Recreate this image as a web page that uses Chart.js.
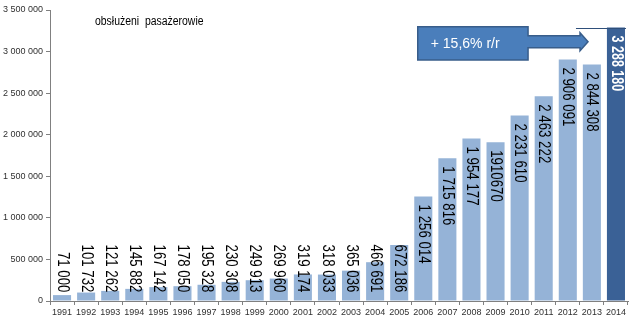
<!DOCTYPE html>
<html>
<head>
<meta charset="utf-8">
<script src="https://cdn.jsdelivr.net/npm/chart.js@4/dist/chart.umd.min.js"></script>
<style>
  html, body { margin: 0; padding: 0; background: #ffffff; }
  #wrap { width: 632px; height: 322px; }
</style>
</head>
<body>
<div id="wrap"><canvas id="c" width="632" height="322"></canvas></div>
<script>
// Passengers handled per year
const years = ['1991','1992','1993','1994','1995','1996','1997','1998','1999','2000',
  '2001','2002','2003','2004','2005','2006','2007','2008','2009','2010','2011','2012','2013','2014'];
const passengers = [71000, 101732, 121262, 145882, 167142, 178050, 195328, 230308, 249913, 269960,
  319174, 318033, 365036, 466691, 672186, 1256014, 1715816, 1954177, 1910670, 2231610,
  2463222, 2906091, 2844308, 3288180];
const valueLabels = ['71 000','101 732','121 262','145 882','167 142','178 050','195 328','230 308',
  '249 913','269 960','319 174','318 033','365 036','466 691','672 186','1 256 014','1 715 816',
  '1 954 177','1910670','2 231 610','2 463 222','2 906 091','2 844 308','3 288 180'];
const yTicks = [0, 500000, 1000000, 1500000, 2000000, 2500000, 3000000, 3500000];
const titleText = 'obsłużeni  pasażerowie';
const growthText = '+ 15,6% r/r';

const LIGHT = '#95b3d7';
const DARK = '#3a6196';
const FONT = '"Liberation Sans", Arial, sans-serif';

const fmt = n => String(n).replace(/\B(?=(\d{3})+(?!\d))/g, ' ');

// Vertical value labels: small bars read up from the base, tall bars hang from the top;
// the latest year is highlighted in bold white on its dark bar
const barLabels = {
  id: 'barLabels',
  afterDatasetsDraw(chart) {
    const ctx = chart.ctx;
    const meta = chart.getDatasetMeta(0);
    const last = passengers.length - 1;
    ctx.save();
    ctx.textBaseline = 'middle';
    meta.data.forEach((bar, i) => {
      const fromTop = passengers[i] >= 1000000;
      ctx.save();
      ctx.fillStyle = i === last ? '#ffffff' : '#000000';
      ctx.font = (i === last ? 'bold ' : '') + '16px ' + FONT;
      ctx.translate(bar.x, fromTop ? bar.y + 8 : bar.base - 8);
      ctx.rotate(Math.PI / 2);
      ctx.scale(i === last ? 0.78 : 0.83, 1);
      ctx.textAlign = fromTop ? 'left' : 'right';
      ctx.fillText(valueLabels[i], 0, 0);
      ctx.restore();
    });
    ctx.restore();
  }
};

// Title text and the year-on-year growth arrow
const annotations = {
  id: 'annotations',
  afterDraw(chart) {
    const ctx = chart.ctx;
    const xs = chart.scales.x, ys = chart.scales.y;
    const area = chart.chartArea;
    ctx.save();

    // series title
    ctx.save();
    ctx.translate(area.left + 45, 22);
    ctx.scale(0.87, 1);
    ctx.fillStyle = '#000';
    ctx.font = '12px ' + FONT;
    ctx.textBaseline = 'middle';
    ctx.textAlign = 'left';
    ctx.fillText(titleText, 0, 0);
    ctx.restore();

    // arrow geometry tied to the scales
    const step = xs.getPixelForValue(1) - xs.getPixelForValue(0);
    const boxL = xs.getPixelForValue(15) - step * 0.23;
    const boxR = xs.getPixelForValue(19) + step * 0.35;
    const boxT = ys.getPixelForValue(3300000);
    const boxB = ys.getPixelForValue(2900000);
    const midY = (boxT + boxB) / 2 - 1.5;
    const tipX = xs.getPixelForValue(22) - step * 0.16;
    const headBase = tipX - 8;
    const shaftH = 6;
    const headH = 9;

    ctx.beginPath();
    ctx.moveTo(boxL, boxT);
    ctx.lineTo(boxR, boxT);
    ctx.lineTo(boxR, midY - shaftH);
    ctx.lineTo(headBase, midY - shaftH);
    ctx.lineTo(headBase, midY - headH);
    ctx.lineTo(tipX, midY);
    ctx.lineTo(headBase, midY + headH);
    ctx.lineTo(headBase, midY + shaftH);
    ctx.lineTo(boxR, midY + shaftH);
    ctx.lineTo(boxR, boxB);
    ctx.lineTo(boxL, boxB);
    ctx.closePath();
    ctx.fillStyle = '#4a7ebb';
    ctx.fill();
    ctx.lineWidth = 1.5;
    ctx.strokeStyle = '#385d8a';
    ctx.stroke();

    ctx.fillStyle = '#ffffff';
    ctx.font = '14px ' + FONT;
    ctx.textBaseline = 'middle';
    ctx.textAlign = 'left';
    ctx.fillText(growthText, boxL + 13, (boxT + boxB) / 2 + 1);

    // level marker at the latest value
    const lvl = Math.round(ys.getPixelForValue(passengers[passengers.length - 1])) + 0.5;
    ctx.beginPath();
    ctx.moveTo(xs.getPixelForValue(22) - step * 0.66, lvl);
    ctx.lineTo(area.right - 2, lvl);
    ctx.lineWidth = 1;
    ctx.strokeStyle = '#2f4f7a';
    ctx.stroke();

    ctx.restore();
  }
};

new Chart(document.getElementById('c'), {
  type: 'bar',
  data: {
    labels: years,
    datasets: [{
      data: passengers,
      backgroundColor: passengers.map((_, i) => i === passengers.length - 1 ? DARK : LIGHT),
      borderWidth: 0,
      barPercentage: 0.75,
      categoryPercentage: 1
    }]
  },
  options: {
    responsive: false,
    devicePixelRatio: 1,
    animation: false,
    layout: { padding: { left: 0, right: 4, top: 10, bottom: 0 } },
    plugins: {
      legend: { display: false },
      tooltip: { enabled: false },
      title: { display: false }
    },
    scales: {
      x: {
        grid: { display: true, drawOnChartArea: false, drawTicks: true, tickLength: 4, color: '#808080', offset: true },
        border: { display: true, color: '#808080', width: 1 },
        ticks: { color: '#303030', font: { family: FONT, size: 9 }, padding: 2, maxRotation: 0, autoSkip: false },
        afterFit(s) { s.height = 21; }
      },
      y: {
        min: 0,
        max: 3500000,
        afterBuildTicks(s) { s.ticks = yTicks.map(v => ({ value: v })); },
        grid: { display: true, drawOnChartArea: false, drawTicks: true, tickLength: 4, color: '#808080' },
        border: { display: true, color: '#808080', width: 1 },
        ticks: { color: '#303030', font: { family: FONT, size: 9 }, padding: 3, callback: v => fmt(v) },
        afterFit(s) { s.width = 50; }
      }
    }
  },
  plugins: [barLabels, annotations]
});
</script>
</body>
</html>
